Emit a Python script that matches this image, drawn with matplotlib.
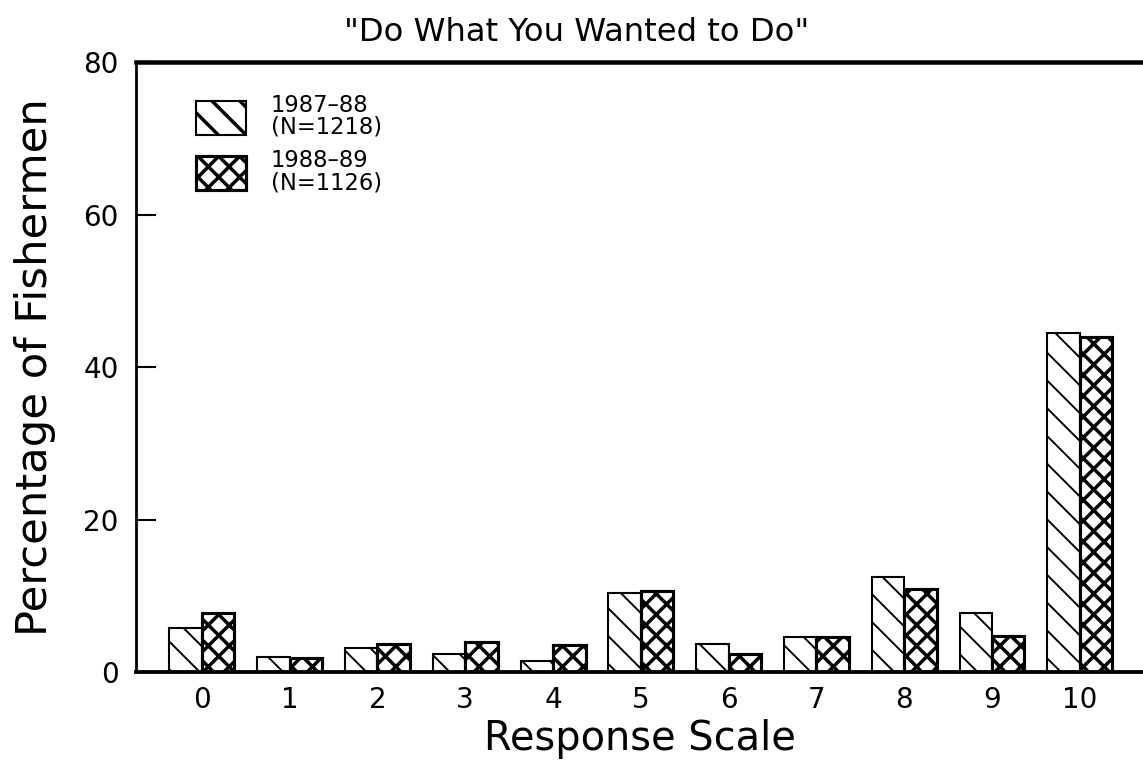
import numpy as np
import matplotlib
matplotlib.use("Agg")
import matplotlib.pyplot as plt

# Percentage of fishermen giving each response (0-10)
scale = [0, 1, 2, 3, 4, 5, 6, 7, 8, 9, 10]
pct_8788 = [5.8, 2.0, 3.2, 2.4, 1.4, 10.3, 3.7, 4.6, 12.5, 7.7, 44.5]
pct_8889 = [7.8, 1.9, 3.7, 3.9, 3.5, 10.6, 2.4, 4.6, 10.9, 4.7, 44.0]
labels = ["1987\u201388\n(N=1218)", "1988\u201389\n(N=1126)"]

DPI = 250
plt.rcParams['font.family'] = ['DejaVu Sans']

fig = plt.figure(figsize=(1143 / DPI, 764 / DPI), dpi=DPI)
ax = fig.add_axes([0.119, 0.1204, 0.881, 0.7984])

x = np.array(scale)
w = 0.37

# first season: sparse single diagonal hatch, thin lines
plt.rcParams['hatch.linewidth'] = 0.55
b1 = ax.bar(x - w / 2, pct_8788, w, facecolor='white', edgecolor='black',
            linewidth=0.6, hatch='\\\\\\', label=labels[0])
# second season: cross hatch, heavy lines
plt.rcParams['hatch.linewidth'] = 1.0
b2 = ax.bar(x + w / 2, pct_8889, w, facecolor='white', edgecolor='black',
            linewidth=0.9, hatch='xxxx', label=labels[1])

for bars, hl in ((b1, 0.55), (b2, 1.0)):
    for p in bars:
        if hasattr(p, 'set_hatch_linewidth'):
            p.set_hatch_linewidth(hl)

ax.set_xlim(-0.75, 10.72)
ax.set_ylim(0, 80)
ax.set_yticks([0, 20, 40, 60, 80])
ax.set_xticks(scale)

ax.spines['right'].set_visible(False)
ax.spines['top'].set_linewidth(1.3)
ax.spines['bottom'].set_linewidth(1.1)
ax.spines['left'].set_linewidth(0.8)

ax.tick_params(axis='y', direction='in', length=5.8, width=0.6, pad=5,
               labelsize=8)
ax.tick_params(axis='x', length=0, pad=4, labelsize=8)

ax.set_title('"Do What You Wanted to Do"', fontsize=9.3, pad=6, x=0.438)
ax.set_xlabel('Response Scale', fontsize=11.5, labelpad=1.5)
ax.set_ylabel('Percentage of Fishermen', fontsize=12.5, labelpad=8)

leg = ax.legend(loc='upper left', bbox_to_anchor=(0.06, 0.948),
                frameon=False, fontsize=6.5, handlelength=2.2,
                handleheight=1.95, handletextpad=1.1, labelspacing=0.45,
                borderpad=0, borderaxespad=0)
for t in leg.get_texts():
    t.set_linespacing(0.95)

fig.savefig('out.png', dpi=DPI)
